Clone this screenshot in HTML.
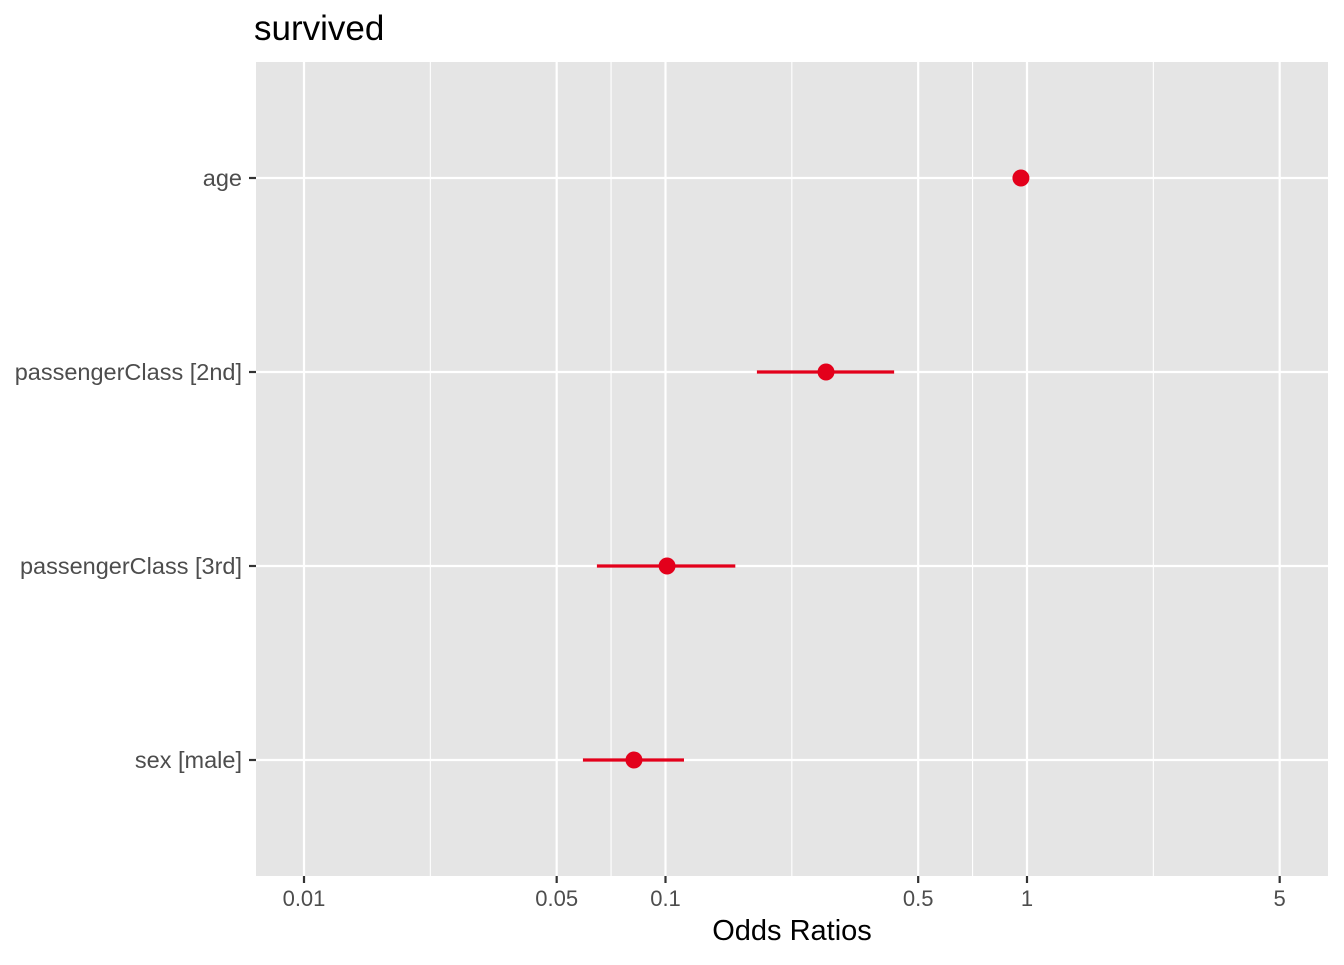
<!DOCTYPE html>
<html><head><meta charset="utf-8"><style>
body{margin:0;background:#fff}
svg text{font-family:"Liberation Sans",Arial,sans-serif}
</style></head><body>
<svg id="chart" width="1344" height="960" xmlns="http://www.w3.org/2000/svg">
<text x="254" y="40" font-size="35" fill="#000">survived</text>
<rect x="256" y="62" width="1072" height="814" fill="#e5e5e5"/>
<g id="grid"></g>
<g id="marks"></g>
<g id="axes"></g>
<text x="792" y="940" font-size="29" text-anchor="middle" fill="#000">Odds Ratios</text>
</svg>
<script>
const terms = ["age","passengerClass [2nd]","passengerClass [3rd]","sex [male]"];
const estimates = [0.962, 0.278, 0.101, 0.0818];
const lowers = [0.955, 0.179, 0.0646, 0.0591];
const uppers = [0.969, 0.429, 0.156, 0.1125];
const xTicks = [0.01, 0.05, 0.1, 0.5, 1, 5];
const xTickLabels = ["0.01","0.05","0.1","0.5","1","5"];
const xMinor = [0.02236, 0.0707, 0.2236, 0.707, 2.236];

const NS="http://www.w3.org/2000/svg";
const x = v => 304 + 361.5*Math.log10(v/0.01);
const y = i => 178 + i*194;
function mk(tag, attrs, parent){const e=document.createElementNS(NS,tag);for(const k in attrs)e.setAttribute(k,attrs[k]);document.getElementById(parent).appendChild(e);return e;}

xMinor.forEach(v=>{
  const l=mk('line',{x1:x(v),x2:x(v),y1:62,y2:876,stroke:'#fff','stroke-width':1.1},'grid');
  
  
});
xTicks.forEach((v,i)=>{
  const l=mk('line',{x1:x(v),x2:x(v),y1:62,y2:876,stroke:'#fff','stroke-width':2.2},'grid');
  
  
  const t=mk('line',{x1:x(v),x2:x(v),y1:876,y2:883,stroke:'#333','stroke-width':2.2},'axes');
  
  
  const tx=mk('text',{x:x(v),y:906,'font-size':22,'text-anchor':'middle',fill:'#4d4d4d'},'axes');
  tx.textContent=xTickLabels[i];
  
  
});
terms.forEach((name,i)=>{
  const l=mk('line',{x1:256,x2:1328,y1:y(i),y2:y(i),stroke:'#fff','stroke-width':2.2},'grid');
  
  
  const t=mk('line',{x1:249,x2:256,y1:y(i),y2:y(i),stroke:'#333','stroke-width':2.2},'axes');
  
  
  const tx=mk('text',{x:242,y:y(i)+8,'font-size':23.5,'text-anchor':'end',fill:'#4d4d4d'},'axes');
  tx.textContent=name;
  
  
  const ci=mk('line',{x1:x(lowers[i]),x2:x(uppers[i]),y1:y(i),y2:y(i),stroke:'#e3001b','stroke-width':3.2},'marks');
  
  
  const p=mk('circle',{cx:x(estimates[i]),cy:y(i),r:8.5,fill:'#e3001b'},'marks');
  
  
});
</script>
</body></html>
